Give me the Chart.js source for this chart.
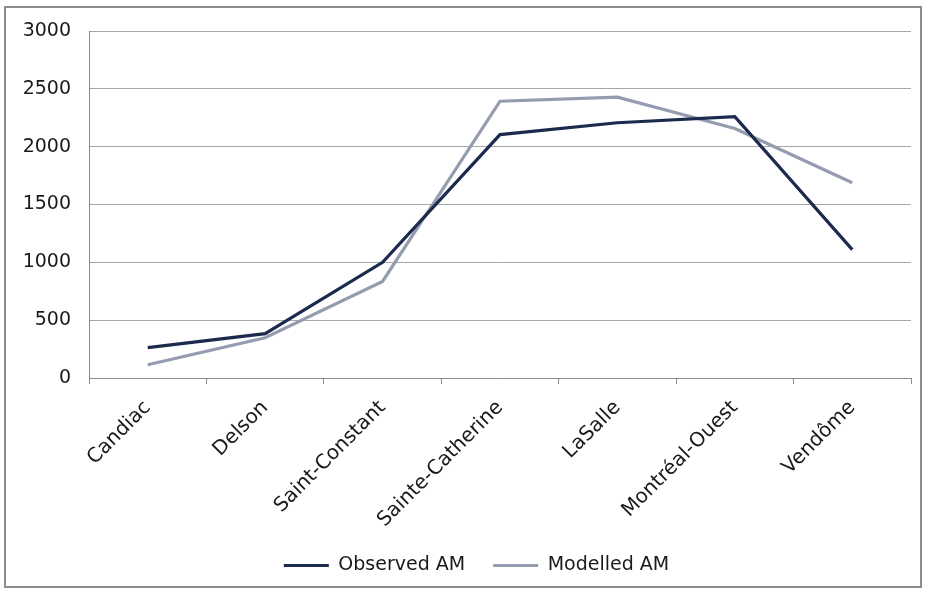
<!DOCTYPE html>
<html>
<head>
<meta charset="utf-8">
<script src="https://cdn.jsdelivr.net/npm/chart.js@4.4.1/dist/chart.umd.min.js"></script>
<style>
  html, body { margin: 0; padding: 0; background: #fff; }
  #frame { position: absolute; left: 4px; top: 6px; width: 914px; height: 578px; border: 2px solid #8c8c8c; }
  #wrap { position: absolute; left: 0; top: 0; width: 926px; height: 595px; }
</style>
</head>
<body>
<div id="frame"></div>
<div id="wrap"><canvas id="c" width="926" height="595"></canvas></div>
<script>
const categories = ["Candiac", "Delson", "Saint-Constant", "Sainte-Catherine", "LaSalle", "Montréal-Ouest", "Vendôme"];
const observedAM = [262, 384, 1000, 2104, 2207, 2260, 1110];
const modelledAM = [115, 348, 835, 2393, 2428, 2157, 1688];
const yTicks = [0, 500, 1000, 1500, 2000, 2500, 3000];

const FONT = "'DejaVu Sans', sans-serif";

const legendShift = {
  id: 'legendShift',
  afterLayout(chart) {
    if (chart.legend) { chart.legend.left += 21; chart.legend.right += 21; }
  }
};

new Chart(document.getElementById('c'), {
  type: 'line',
  data: {
    labels: categories,
    datasets: [
      { label: 'Observed AM', data: observedAM, borderColor: '#1c2b4d', backgroundColor: '#1c2b4d',
        borderWidth: 3.2, pointRadius: 0, tension: 0 },
      { label: 'Modelled AM', data: modelledAM, borderColor: '#959cb0', backgroundColor: '#959cb0',
        borderWidth: 3.2, pointRadius: 0, tension: 0 }
    ]
  },
  plugins: [legendShift],
  options: {
    responsive: false,
    animation: false,
    layout: { padding: { top: 31, right: 15, left: 0, bottom: 10 } },
    plugins: {
      tooltip: { enabled: false },
      legend: {
        position: 'bottom',
        labels: {
          usePointStyle: true,
          pointStyle: 'line',
          pointStyleWidth: 45,
          padding: 28,
          color: '#1a1a1a',
          font: { family: FONT, size: 19 }
        }
      }
    },
    scales: {
      x: {
        offset: true,
        grid: { display: true, offset: true, drawOnChartArea: false, drawTicks: true, tickLength: 6, color: '#8c8c8c' },
        border: { display: true, color: '#8c8c8c', width: 1 },
        ticks: { minRotation: 45, maxRotation: 45, padding: 12, color: '#1a1a1a', font: { family: FONT, size: 20 } },
        afterFit: (s) => { s.height = 150; }
      },
      y: {
        min: 0, max: 3000,
        afterBuildTicks: (s) => { s.ticks = yTicks.map(v => ({ value: v })); },
        grid: { color: '#a6a6a6', drawTicks: false, lineWidth: 1 },
        border: { display: true, color: '#8c8c8c', width: 1 },
        ticks: { padding: 18, color: '#1a1a1a', font: { family: FONT, size: 19 }, callback: (v) => String(v) },
        afterFit: (s) => { s.width = 89; }
      }
    }
  }
});
</script>
</body>
</html>
